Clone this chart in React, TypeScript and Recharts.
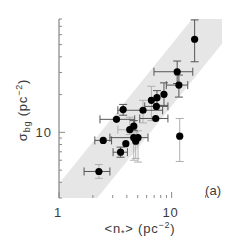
import React from 'react';
import { ComposedChart, Area, Scatter, ErrorBar, XAxis, YAxis } from 'recharts';

// <n*> (pc^-2) and sigma_bg (pc^-2) of each cluster
const nStar = [16.0, 11.2, 11.6, 8.55, 7.41, 6.61, 7.32, 3.71, 5.57, 3.24, 7.22, 4.61, 4.25, 2.47, 4.61, 5.03, 4.8, 3.92, 3.52, 2.26, 11.8];
const sigmaBg = [55.2, 30.4, 23.8, 20.1, 18.9, 18.0, 16.1, 15.2, 15.0, 12.7, 12.9, 11.2, 10.5, 8.63, 9.08, 9.08, 8.51, 8.12, 6.95, 4.88, 9.33];
// error-bar bounds (null = none)
const nLow: (number | null)[] = [null, 6.97, 8.97, null, null, null, 5.77, null, 3.33, 2.31, 5.21, null, 3.33, 2.08, 2.83, null, null, null, 3.02, 1.67, null];
const nHigh: (number | null)[] = [null, 15.4, 13.9, null, null, null, 9.27, null, 8.32, 4.7, 9.27, null, 4.9, 2.93, 6.17, null, null, null, 4.05, 2.83, null];
const sigmaLow: (number | null)[] = [36.5, 24.5, 19.1, 16.4, 16.4, 12.4, null, 13.7, 11.9, null, null, 10.3, 9.6, null, 6.0, 5.8, 6.2, null, 6.34, 4.3, 5.86];
const sigmaHigh: (number | null)[] = [78.7, 37.0, 28.6, 24.8, 21.5, 23.3, null, 16.7, 18.0, null, null, 12.4, 13.2, null, 9.9, 10.3, 9.5, null, 7.63, 5.54, 12.9];
// shade of error bars: d = dark, l = light
const nShade = ['d', 'd', 'd', 'd', 'd', 'd', 'd', 'd', 'd', 'd', 'd', 'd', 'l', 'd', 'd', 'd', 'd', 'd', 'd', 'd', 'd'];
const sigmaShade = ['d', 'd', 'd', 'd', 'd', 'l', 'd', 'd', 'l', 'd', 'd', 'd', 'l', 'd', 'l', 'l', 'l', 'd', 'd', 'l', 'l'];

// shaded band
const bandX = [1, 28];
const bandLow = [1.26, 50.9];
const bandHigh = [3.9, 157.6];

const xTicks = [1, 2, 3, 4, 5, 6, 7, 8, 9, 10, 20];
const xLabeled = [1, 10];
const yTicks = [3, 4, 5, 6, 7, 8, 9, 10, 20, 30, 40, 50, 60, 70, 80];
const yLabeled = [10];

const bandData = bandX.map((x, i) => ({ x, band: [bandLow[i], bandHigh[i]] }));

const err = (v: number, lo: number | null, hi: number | null) =>
  lo == null || hi == null ? null : [v - lo, hi - v];

const points = nStar.map((x, i) => {
  const ex = err(x, nLow[i], nHigh[i]);
  const ey = err(sigmaBg[i], sigmaLow[i], sigmaHigh[i]);
  return {
    x,
    y: sigmaBg[i],
    exD: nShade[i] === 'd' ? ex : null,
    exL: nShade[i] === 'l' ? ex : null,
    eyD: sigmaShade[i] === 'd' ? ey : null,
    eyL: sigmaShade[i] === 'l' ? ey : null,
  };
});

const FONT = '"Liberation Sans", Arial, sans-serif';
const TXT = '#3a3a3a';
const TICK = '#8a8a8a';

const BottomTick = (p: any) => {
  const { x, y, payload } = p;
  const lab = xLabeled.includes(payload.value);
  return (
    <g>
      <line x1={x} x2={x} y1={y} y2={y - (lab ? 6 : 3)} stroke={TICK} />
      {lab && (
        <text x={x - 1} y={y + 19} textAnchor="middle" fontSize={13} fontFamily={FONT} fill={TXT} letterSpacing={1}>
          {payload.value}
        </text>
      )}
    </g>
  );
};
const TopTick = (p: any) => {
  const { x, y, payload } = p;
  const lab = xLabeled.includes(payload.value);
  return <line x1={x} x2={x} y1={y} y2={y + (lab ? 6 : 3)} stroke={TICK} />;
};
const LeftTick = (p: any) => {
  const { x, y, payload } = p;
  const lab = yLabeled.includes(payload.value);
  return (
    <g>
      <line x1={x} x2={x + (lab ? 6 : 3)} y1={y} y2={y} stroke={TICK} />
      {lab && (
        <text x={x - 7} y={y + 5} textAnchor="end" fontSize={13} fontFamily={FONT} fill={TXT} letterSpacing={1}>
          {payload.value}
        </text>
      )}
    </g>
  );
};
const RightTick = (p: any) => {
  const { x, y, payload } = p;
  const lab = yLabeled.includes(payload.value);
  return <line x1={x} x2={x - (lab ? 6 : 3)} y1={y} y2={y} stroke={TICK} />;
};

const Dot = (p: any) => <circle cx={p.cx} cy={p.cy} r={3.6} fill="#000" />;

export default function App() {
  return (
    <div style={{ position: 'absolute', left: 0, top: 0, width: 245, height: 245, background: '#fff' }}>
      <ComposedChart
        width={245}
        height={245}
        data={bandData}
        margin={{ top: 19, right: 23, bottom: 17, left: 19 }}
      >
        <XAxis
          xAxisId={0}
          dataKey="x"
          type="number"
          scale="log"
          domain={[1, 28]}
          allowDataOverflow
          ticks={xTicks}
          tick={BottomTick}
          tickLine={false}
          tickSize={0}
          tickMargin={0}
          axisLine={false}
          height={30}
          interval={0}
        />
        <XAxis
          xAxisId="top"
          orientation="top"
          type="number"
          scale="log"
          domain={[1, 28]}
          allowDataOverflow
          ticks={xTicks}
          tick={TopTick}
          tickLine={false}
          tickSize={0}
          tickMargin={0}
          axisLine={false}
          height={0}
          interval={0}
        />
        <YAxis
          yAxisId={0}
          type="number"
          scale="log"
          domain={[3, 80]}
          allowDataOverflow
          ticks={yTicks}
          tick={LeftTick}
          tickLine={false}
          tickSize={0}
          tickMargin={0}
          axisLine={{ stroke: '#6a6a6a' }}
          width={40}
          interval={0}
        />
        <YAxis
          yAxisId="right"
          orientation="right"
          type="number"
          scale="log"
          domain={[3, 80]}
          allowDataOverflow
          ticks={yTicks}
          tick={RightTick}
          tickLine={false}
          tickSize={0}
          tickMargin={0}
          axisLine={false}
          width={0}
          interval={0}
        />
        <Area
          xAxisId={0}
          yAxisId={0}
          dataKey="band"
          type="linear"
          stroke="none"
          fill="#e6e6e6"
          fillOpacity={1}
          isAnimationActive={false}
          activeDot={false}
          dot={false}
        />
        <Scatter
          xAxisId={0}
          yAxisId={0}
          data={points}
          dataKey="y"
          shape={Dot}
          isAnimationActive={false}
        >
          <ErrorBar dataKey="exL" direction="x" stroke="#b0b0b0" width={4} strokeWidth={1} />
          <ErrorBar dataKey="eyL" direction="y" stroke="#b0b0b0" width={4} strokeWidth={1} />
          <ErrorBar dataKey="exD" direction="x" stroke="#555" width={4} strokeWidth={1} />
          <ErrorBar dataKey="eyD" direction="y" stroke="#555" width={4} strokeWidth={1} />
        </Scatter>
      </ComposedChart>
      <svg width={245} height={245} style={{ position: 'absolute', left: 0, top: 0, pointerEvents: 'none' }}>
        <text x={140} y={233} textAnchor="middle" fontSize={13} fontFamily={FONT} fill={TXT} letterSpacing={0.8}>
          {'<n'}
          <tspan fontSize={9} dy={3}>*</tspan>
          <tspan dy={-3}>{'>  (pc'}</tspan>
          <tspan fontSize={9} dy={-5}>−2</tspan>
          <tspan dy={5}>)</tspan>
        </text>
        <text
          x={0}
          y={0}
          transform="translate(27,110) rotate(-90)"
          textAnchor="middle"
          fontSize={13}
          fontFamily={FONT}
          fill={TXT}
          letterSpacing={0.8}
        >
          {'σ'}
          <tspan fontSize={9} dy={3}>bg</tspan>
          <tspan dy={-3}>{'  (pc'}</tspan>
          <tspan fontSize={9} dy={-5}>−2</tspan>
          <tspan dy={5}>)</tspan>
        </text>
        <text x={221} y={195} textAnchor="end" fontSize={13} fontFamily={FONT} fill={TXT}>
          (a)
        </text>
      </svg>
    </div>
  );
}
